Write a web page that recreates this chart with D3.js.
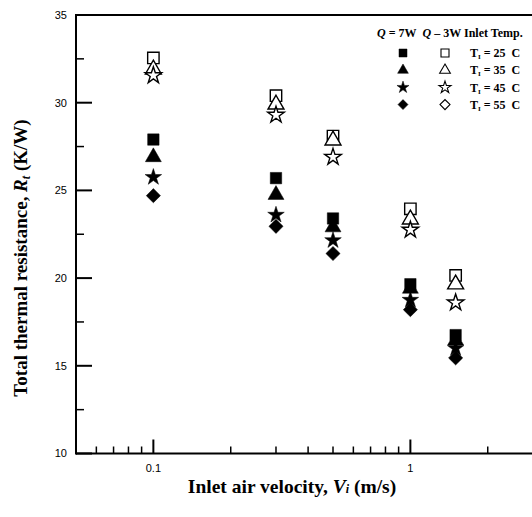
<!DOCTYPE html>
<html>
<head>
<meta charset="utf-8">
<script src="https://cdn.jsdelivr.net/npm/d3@7"></script>
<style>
  body { margin: 0; background: #fff; }
  svg { display: block; }
  .tick-label { font-family: "Liberation Sans", Arial, sans-serif; font-size: 11px; }
  .axis-title { font-family: "Liberation Serif", "Times New Roman", serif; font-weight: bold; font-size: 19.5px; }
  .legend-text { font-family: "Liberation Serif", "Times New Roman", serif; font-weight: bold; font-size: 12px; white-space: pre; }
</style>
</head>
<body>
<div id="chart"></div>
<script>
// Inlet air velocity (m/s)
const velocity = [0.1, 0.3, 0.5, 1, 1.5];

// Q = 7W (filled symbols)
const q7_T25 = [27.9, 25.7, 23.4, 19.65, 16.75];
const q7_T35 = [26.9, 24.75, 22.9, 19.4, 16.45];
const q7_T45 = [25.75, 23.6, 22.15, 18.75, 16.0];
const q7_T55 = [24.7, 22.95, 21.4, 18.2, 15.45];

// Q = 3W (open symbols)
const q3_T25 = [32.55, 30.4, 28.1, 23.95, 20.15];
const q3_T35 = [31.9, 29.9, 27.85, 23.35, 19.65];
const q3_T45 = [31.55, 29.3, 26.9, 22.75, 18.6];
const q3_T55 = [];

const inletTemps = ['25', '35', '45', '55'];
const yTicks = [10, 15, 20, 25, 30, 35];
const yMinorTicks = [12.5, 17.5, 22.5, 27.5, 32.5];
const xTicks = [0.1, 1];
const xMinorTicks = [0.06, 0.07, 0.08, 0.09, 0.2, 0.3, 0.4, 0.5, 0.6, 0.7, 0.8, 0.9, 2];

const W = 532, H = 517;
const margin = { top: 15, right: 0, bottom: 63, left: 76 };

const svg = d3.select('#chart').append('svg')
    .attr('width', W)
    .attr('height', H);

const x = d3.scaleLog()
    .domain([0.05, 3])
    .range([margin.left, 533]);

const y = d3.scaleLinear()
    .domain([10, 35])
    .range([H - margin.bottom - 0.5, margin.top]);

// symbol shapes, plot and legend sizes
const plotShapes = {
    square: d3.symbol().type(d3.symbolSquare).size(130),
    triangle: d3.symbol().type(d3.symbolTriangle).size(110),
    star: d3.symbol().type(d3.symbolStar).size(85),
    diamond: d3.symbol().type(d3.symbolSquare).size(100)
};
const legendShapes = {
    square: d3.symbol().type(d3.symbolSquare).size(64),
    triangle: d3.symbol().type(d3.symbolTriangle).size(50),
    star: d3.symbol().type(d3.symbolStar).size(45),
    diamond: d3.symbol().type(d3.symbolSquare).size(50)
};
const shapeNames = ['square', 'triangle', 'star', 'diamond'];

// axes frame
const axisG = svg.append('g');
axisG.append('line')
    .attr('x1', x.range()[0]).attr('x2', W)
    .attr('y1', y(10)).attr('y2', y(10))
    .attr('stroke', '#000').attr('stroke-width', 2);
axisG.append('line')
    .attr('x1', x.range()[0]).attr('x2', x.range()[0])
    .attr('y1', y(10) + 1).attr('y2', y(35))
    .attr('stroke', '#000').attr('stroke-width', 2);
axisG.append('line')
    .attr('x1', x.range()[0] - 1).attr('x2', W)
    .attr('y1', y(35)).attr('y2', y(35))
    .attr('stroke', '#000').attr('stroke-width', 2);

// y ticks (inward)
axisG.selectAll('.ymaj').data(yTicks).enter().append('line')
    .attr('x1', x.range()[0]).attr('x2', x.range()[0] + 16)
    .attr('y1', d => y(d)).attr('y2', d => y(d))
    .attr('stroke', '#000').attr('stroke-width', 2);
axisG.selectAll('.ymin').data(yMinorTicks).enter().append('line')
    .attr('x1', x.range()[0]).attr('x2', x.range()[0] + 8)
    .attr('y1', d => y(d)).attr('y2', d => y(d))
    .attr('stroke', '#000').attr('stroke-width', 1.5);
axisG.selectAll('.ylab').data(yTicks).enter().append('text')
    .attr('class', 'tick-label')
    .attr('x', x.range()[0] - 9)
    .attr('y', d => y(d))
    .attr('dy', '0.35em')
    .attr('text-anchor', 'end')
    .text(d => d);

// x ticks (inward)
axisG.selectAll('.xmaj').data(xTicks).enter().append('line')
    .attr('x1', d => x(d)).attr('x2', d => x(d))
    .attr('y1', y(10)).attr('y2', y(10) - 14)
    .attr('stroke', '#000').attr('stroke-width', 2);
axisG.selectAll('.xmin').data(xMinorTicks).enter().append('line')
    .attr('x1', d => x(d)).attr('x2', d => x(d))
    .attr('y1', y(10)).attr('y2', y(10) - 7)
    .attr('stroke', '#000').attr('stroke-width', 1.5);
axisG.selectAll('.xlab').data(xTicks).enter().append('text')
    .attr('class', 'tick-label')
    .attr('x', d => x(d))
    .attr('y', y(10) + 18)
    .attr('text-anchor', 'middle')
    .text(d => d);

// axis titles
const xTitle = svg.append('text')
    .attr('class', 'axis-title')
    .attr('x', 292)
    .attr('y', 493)
    .attr('text-anchor', 'middle');
xTitle.append('tspan').text('Inlet air velocity, ');
xTitle.append('tspan').attr('font-style', 'italic').text('V');
xTitle.append('tspan').attr('font-style', 'italic').attr('font-size', 12).text('i');
xTitle.append('tspan').text(' (m/s)');

const yTitle = svg.append('text')
    .attr('class', 'axis-title')
    .style('font-size', '19px')
    .attr('transform', 'translate(27,258) rotate(-90)')
    .attr('text-anchor', 'middle');
yTitle.append('tspan').text('Total thermal resistance, ');
yTitle.append('tspan').attr('font-style', 'italic').text('R');
yTitle.append('tspan').attr('font-style', 'italic').attr('font-size', 12).attr('dy', 3).text('t');
yTitle.append('tspan').attr('dy', -3).text(' (K/W)');

// data series
const series = [
    { values: q3_T25, shape: 'square', filled: false },
    { values: q3_T35, shape: 'triangle', filled: false },
    { values: q3_T45, shape: 'star', filled: false },
    { values: q3_T55, shape: 'diamond', filled: false },
    { values: q7_T25, shape: 'square', filled: true },
    { values: q7_T35, shape: 'triangle', filled: true },
    { values: q7_T45, shape: 'star', filled: true },
    { values: q7_T55, shape: 'diamond', filled: true }
];

function drawSymbol(g, gen, shape, filled, cx, cy, sw) {
    g.append('path')
        .attr('d', gen[shape]())
        .attr('transform', `translate(${cx},${cy})` + (shape === 'diamond' ? ' rotate(45)' : ''))
        .attr('fill', filled ? '#000' : '#fff')
        .attr('stroke', '#000')
        .attr('stroke-width', filled ? 0.5 : sw);
}

const marks = svg.append('g');
series.forEach(s => {
    s.values.forEach((v, i) => {
        drawSymbol(marks, plotShapes, s.shape, s.filled, x(velocity[i]), y(v), 1.4);
    });
});

// legend
const legend = svg.append('g');
const head = legend.append('text').attr('class', 'legend-text').attr('x', 377).attr('y', 37);
head.append('tspan').attr('font-style', 'italic').text('Q');
head.append('tspan').text(' = 7W\u00a0\u00a0');
head.append('tspan').attr('font-style', 'italic').text('Q');
head.append('tspan').text(' \u2013 3W Inlet Temp.');

inletTemps.forEach((t, i) => {
    const ly = 53 + i * 17.2;
    drawSymbol(legend, legendShapes, shapeNames[i], true, 403, ly, 1.1);
    drawSymbol(legend, legendShapes, shapeNames[i], false, 445, ly, 1.1);
    const txt = legend.append('text').attr('class', 'legend-text')
        .attr('x', 470).attr('y', ly).attr('dy', '0.35em');
    txt.append('tspan').text('T');
    txt.append('tspan').attr('font-size', 7).attr('dy', 2).text('I');
    txt.append('tspan').attr('dy', -2).text(' = ' + t + '\u00a0\u00a0C');
});
</script>
</body>
</html>
